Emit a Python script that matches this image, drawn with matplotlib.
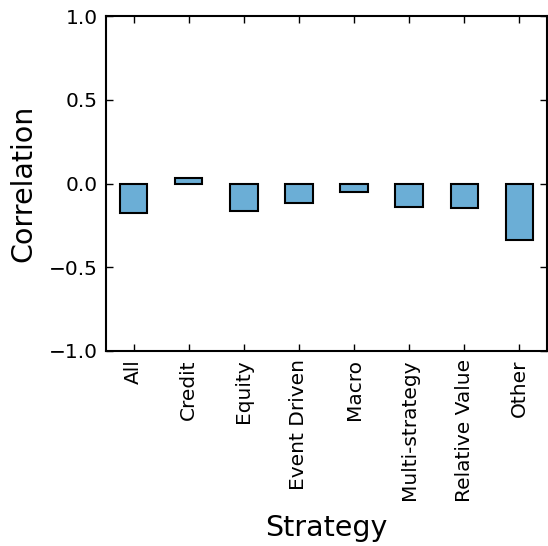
import matplotlib
matplotlib.use("Agg")
import matplotlib.pyplot as plt
import numpy as np

strategies = ["All", "Credit", "Equity", "Event Driven", "Macro",
              "Multi-strategy", "Relative Value", "Other"]
correlation = [-0.175, 0.033, -0.167, -0.119, -0.05, -0.139, -0.147, -0.338]

fig = plt.figure(figsize=(5.48, 5.46), dpi=100)
ax = fig.add_axes([106/548, (546-351)/546, (547-106)/548, (351-16)/546])

x = np.arange(len(strategies))
ax.bar(x, correlation, width=0.5, color="#6baed6", edgecolor="black", linewidth=1.5)
ax.set_xlim(-0.5, len(strategies) - 0.5)
ax.set_ylim(-1.0, 1.0)
ax.set_yticks([-1.0, -0.5, 0.0, 0.5, 1.0])
ax.set_yticklabels(["\u22121.0", "\u22120.5", "0.0", "0.5", "1.0"])
ax.set_xticks(x)
ax.set_xticklabels(strategies, rotation=90)
ax.tick_params(direction="in", top=True, right=True, length=5, width=1, labelsize=14.5, pad=6)
for s in ax.spines.values():
    s.set_linewidth(1.5)
ax.set_xlabel("Strategy", fontsize=20.5, labelpad=8)
ax.set_ylabel("Correlation", fontsize=20.5, labelpad=8)

fig.savefig("out.png", dpi=100)
